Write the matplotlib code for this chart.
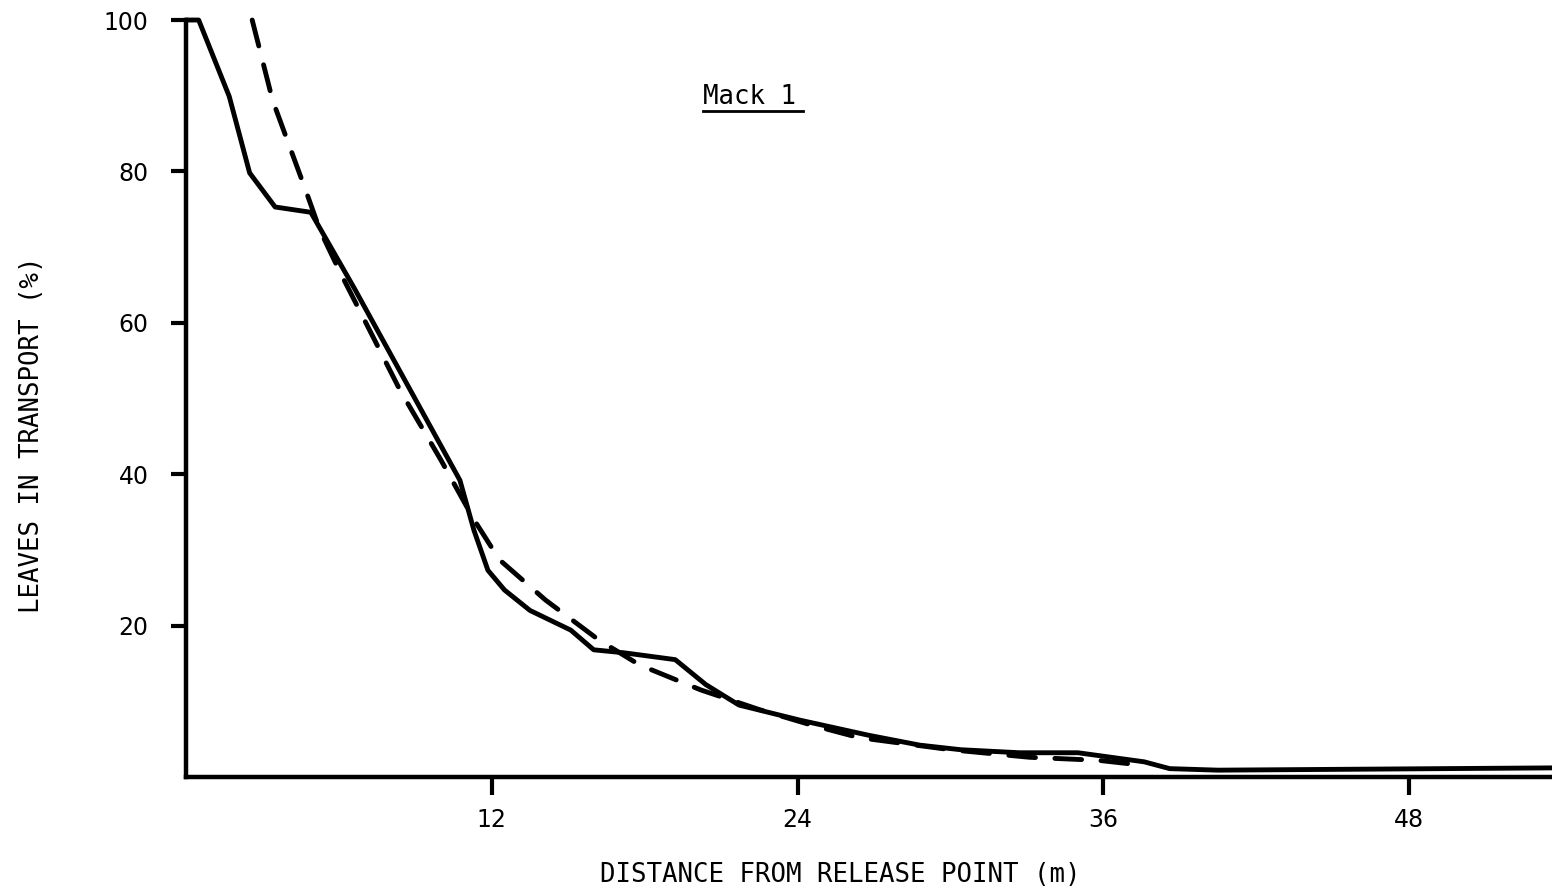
import matplotlib.pyplot as plt

# Leaf transport curves
observed_x = [0, 0.5, 1.7, 2.5, 3.5, 4.9, 6.6, 7.4, 10.75, 11.3, 11.85, 12.5, 13.5,
              15.1, 16.0, 17.2, 19.2, 20.4, 21.7, 24.1, 26.8, 28.8, 30.4, 32.7, 35.0,
              37.6, 38.6, 40.5, 53.6]
observed_y = [100, 100, 89.9, 79.8, 75.3, 74.6, 64.6, 59.7, 39.2, 32.6, 27.3, 24.7, 22.0,
              19.4, 16.8, 16.4, 15.5, 12.2, 9.5, 7.5, 5.5, 4.2, 3.6, 3.2, 3.2,
              2.0, 1.1, 0.9, 1.2]

model_x = [2.6, 3.4, 4.7, 5.25, 6.0, 7.0, 8.4, 10.0, 11.3, 12.3, 14.1, 16.2, 17.8,
           20.2, 22.5, 24.5, 26.4, 30.0, 33.1, 35.8, 37.4]
model_y = [100, 89.4, 77.5, 72.3, 67.0, 60.4, 51.1, 41.9, 34.0, 28.7, 23.4, 18.1, 14.8,
           11.5, 8.9, 6.9, 5.2, 3.6, 2.6, 2.2, 1.6]

x_ticks = [12, 24, 36, 48]
y_ticks = [20, 40, 60, 80, 100]

plt.rcParams['font.family'] = 'DejaVu Sans Mono'

fig = plt.figure(figsize=(15.52, 8.9), dpi=100)
ax = fig.add_axes([0.1198, 0.127, 0.8802, 0.8505])

ax.plot(observed_x, observed_y, color="black", lw=3.5, clip_on=False,
        solid_joinstyle="round", solid_capstyle="round")
ax.plot(model_x, model_y, color="black", lw=3.5, dashes=(5.5, 4), clip_on=False,
        dash_capstyle="round")

ax.set_xlim(0, 53.6)
ax.set_ylim(0, 100)
ax.set_xticks(x_ticks)
ax.set_yticks(y_ticks)

for side in ["top", "right"]:
    ax.spines[side].set_visible(False)
for side in ["left", "bottom"]:
    ax.spines[side].set_linewidth(3.2)

ax.tick_params(axis="both", direction="out", width=3, labelsize=17)
ax.tick_params(axis="y", length=11, pad=16)
ax.tick_params(axis="x", length=13, pad=9)
for lbl in ax.get_xticklabels() + ax.get_yticklabels():
    lbl.set_family("DejaVu Sans")

ax.set_xlabel("DISTANCE FROM RELEASE POINT (m)", fontsize=18.5)
ax.set_ylabel("LEAVES IN TRANSPORT (%)", fontsize=18.5)
ax.xaxis.set_label_coords(0.479, -0.112)
ax.yaxis.set_label_coords(-0.103, 0.452)

# title with underline
ax.text(22.1, 89.8, "Mack 1", fontsize=18.5, ha="center", va="center")
ax.plot([20.3, 24.2], [88.0, 88.0], color="black", lw=2)

fig.savefig("out.png", dpi=100)
